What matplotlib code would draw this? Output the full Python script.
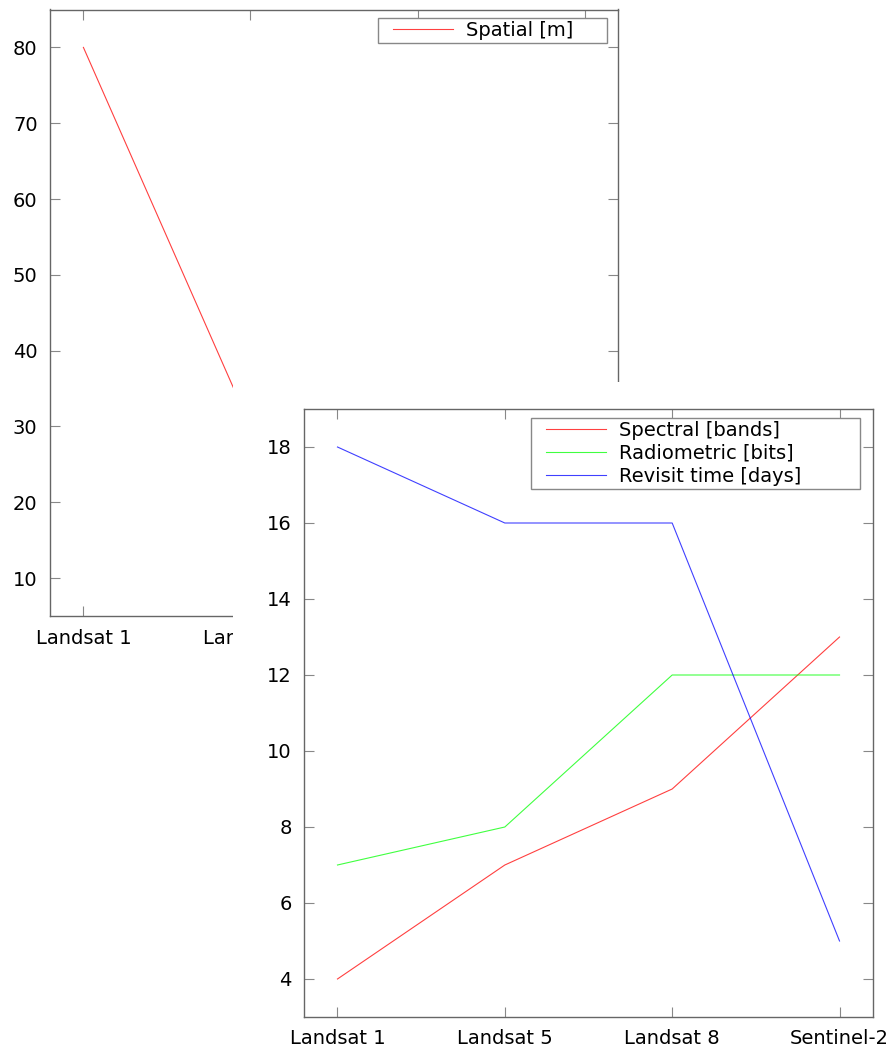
import matplotlib
matplotlib.use('Agg')
import matplotlib.pyplot as plt
from matplotlib.patches import Rectangle
from matplotlib.lines import Line2D
from matplotlib.legend_handler import HandlerLine2D

# satellite generations and their resolutions
satellites = ['Landsat 1', 'Landsat 5', 'Landsat 8', 'Sentinel-2']
spatial = [80, 30, 30, 10]        # m
spectral = [4, 7, 9, 13]          # bands
radiometric = [7, 8, 12, 12]      # bits
revisit = [18, 16, 16, 5]         # days

W, H = 888, 1053
fig = plt.figure(figsize=(W / 100, H / 100), dpi=100)
plt.rcParams['font.size'] = 14


def px_axes(left, top, right, bottom):
    # convert pixel box to figure fraction
    return [left / W, 1 - bottom / H, (right - left) / W, (bottom - top) / H]


def style(ax):
    for s in ax.spines.values():
        s.set_color('#666666')
        s.set_linewidth(1.0)
    ax.tick_params(direction='in', length=7, width=0.8, color='#888888',
                   top=True, right=True, pad=9, labelsize=14)


def legend(ax, box):
    # box = frame left/right/top in axes fraction (frame is wider than text)
    x0, x1, top = box
    leg = ax.legend(loc='upper right', bbox_to_anchor=(x0, top, x1 - x0, 0),
                    mode='expand', fancybox=False, framealpha=1,
                    edgecolor='#888888', borderpad=0.15, labelspacing=0.2,
                    handlelength=4.3, handletextpad=0.1, borderaxespad=0,
                    fontsize=14,
                    handler_map={Line2D: HandlerLine2D(marker_pad=0.6, numpoints=2)})
    leg.get_frame().set_linewidth(1.0)
    return leg


x = range(len(satellites))
LW, ALPHA = 0.8, 0.75

# spatial resolution plot
ax1 = fig.add_axes(px_axes(50, 9.5, 618, 616))
ax1.set_zorder(0)
ax1.plot(x, spatial, color='red', lw=LW, alpha=ALPHA, label='Spatial [m]')
ax1.set_xlim(-0.2, 3.2)
ax1.set_ylim(5, 85)
ax1.set_xticks(list(x))
ax1.set_xticklabels(satellites)
ax1.set_yticks(range(10, 81, 10))
style(ax1)
legend(ax1, ((378 - 50) / 568, (607 - 50) / 568, 1 - (18 - 9.5) / 606.5))

# second image pasted on top covers the lower right part
fig.add_artist(Rectangle((233 / W, 0), 1 - 233 / W, 1 - 382 / H,
                         transform=fig.transFigure, facecolor='white',
                         edgecolor='none', zorder=1))

# other resolutions plot
ax2 = fig.add_axes(px_axes(304, 409, 873, 1017))
ax2.set_zorder(2)
ax2.plot(x, spectral, color='red', lw=LW, alpha=ALPHA, label='Spectral [bands]')
ax2.plot(x, radiometric, color='lime', lw=LW, alpha=ALPHA, label='Radiometric [bits]')
ax2.plot(x, revisit, color='blue', lw=LW, alpha=ALPHA, label='Revisit time [days]')
ax2.set_xlim(-0.2, 3.2)
ax2.set_ylim(3, 19)
ax2.set_xticks(list(x))
ax2.set_xticklabels(satellites)
ax2.set_yticks(range(4, 19, 2))
style(ax2)
legend(ax2, ((531 - 304) / 569, (860 - 304) / 569, 1 - (418 - 409) / 608))

fig.savefig('out.png', dpi=100, facecolor='white')
